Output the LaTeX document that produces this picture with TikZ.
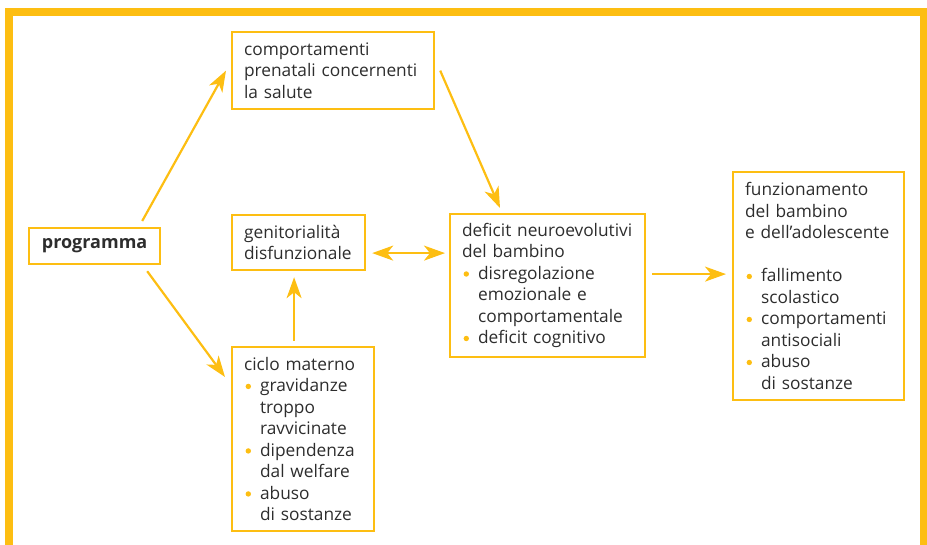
\documentclass[tikz,border=0pt]{standalone}
\usepackage{fontspec}
\setmainfont{Open Sans}
\usetikzlibrary{arrows.meta,calc}
\definecolor{yel}{RGB}{253,190,18}
\definecolor{txt}{RGB}{45,45,45}
\newcommand\bu{\makebox[16pt][l]{\hspace{1.5pt}\tikz[baseline=0pt]\fill[yel] (2.7pt,5.4pt) circle[radius=2.7pt];}}
\newcommand\ind{\hspace*{16pt}}
\begin{document}
\begin{tikzpicture}[x=1pt,y=-1pt,
  box/.style={draw=yel,line width=2.2pt,anchor=north west,inner xsep=12pt,inner ysep=0pt,
    align=left,text=txt,font=\fontsize{17.3}{21.5}\selectfont},
  arr/.style={draw=yel,line width=2.2pt,-{Stealth[length=21pt,width=15pt,inset=6pt]}},
  darr/.style={draw=yel,line width=2.2pt,{Stealth[length=21pt,width=15pt,inset=6pt]}-{Stealth[length=21pt,width=15pt,inset=6pt]}},
]
\useasboundingbox (0,0) rectangle (927,545);
\draw[yel,line width=8pt] (9,545) -- (9,12) -- (923.5,12) -- (923.5,545);

\node[box,align=center,text width=107pt,minimum height=36pt,font=\fontsize{18}{21.5}\selectfont\bfseries] (prog) at (28,227) {programma};
\node[box,text width=178pt,minimum height=77pt] (comp) at (231,31)
  {comportamenti\\prenatali concernenti\\la salute};
\node[box,text width=109pt,minimum height=55pt] (gen) at (231,214)
  {genitorialità\\disfunzionale};
\node[box,text width=118pt,minimum height=184pt] (cic) at (231,346)
  {ciclo materno\\\bu gravidanze\\\ind troppo\\\ind ravvicinate\\\bu dipendenza\\\ind dal welfare\\\bu abuso\\\ind di sostanze};
\node[box,text width=171pt,minimum height=143pt] (def) at (449,213)
  {deficit neuroevolutivi\\del bambino\\\bu disregolazione\\\ind emozionale e\\\ind comportamentale\\\bu deficit cognitivo};
\node[box,text width=147pt,minimum height=228pt] (fun) at (732,171)
  {funzionamento\\del bambino\\e dell’adolescente\\[21.5pt]\bu fallimento\\\ind scolastico\\\bu comportamenti\\\ind antisociali\\\bu abuso\\\ind di sostanze};

\draw[arr] ($(prog.north east)+(-19,-6)$) -- ($(comp.west)+(-5,0)$);
\draw[arr] ($(prog.south east)+(-14,6)$) -- ($(cic.north west)+(-6,31)$);
\draw[arr] ($(comp.east)+(5,0)$) -- ($(def.north west)+(51,-5)$);
\draw[darr] ($(gen.east)+(6,10.5)$) -- ($(gen.east -| def.west)+(-4,10.5)$);
\draw[arr] ($(gen.south |- cic.north)+(-4.5,-5)$) -- ($(gen.south)+(-4.5,6)$);
\draw[arr] ($(def.east)+(6,-11.5)$) -- ($(def.east -| fun.west)+(-6,-11.5)$);
\end{tikzpicture}
\end{document}
